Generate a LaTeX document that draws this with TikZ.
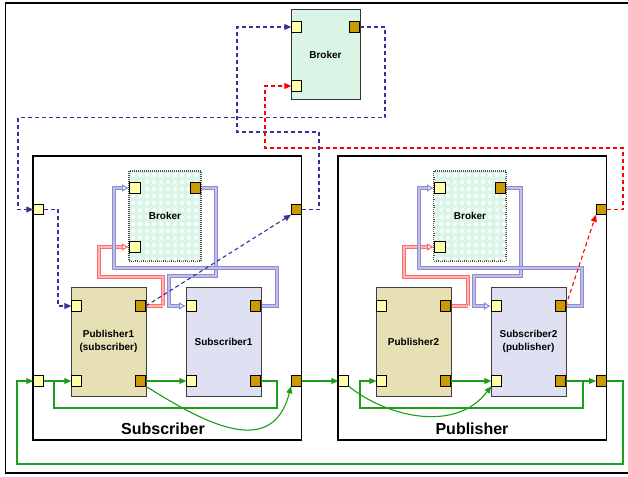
\documentclass[tikz,border=0pt]{standalone}
\usepackage{fontspec}
\setmainfont{Liberation Sans}
\usepackage{tikz}
\usetikzlibrary{arrows.meta,patterns.meta}
\definecolor{brkc}{HTML}{DAF5E6}
\definecolor{pubc}{HTML}{E8E0B5}
\definecolor{subc}{HTML}{DFE1F2}
\definecolor{inc}{HTML}{FFFFA8}
\definecolor{outc}{HTML}{CC9900}
\definecolor{bluec}{HTML}{333399}
\definecolor{redc}{HTML}{FF0000}
\definecolor{greenc}{HTML}{1A9E1A}
\definecolor{lblue}{HTML}{8C8CD2}
\definecolor{lred}{HTML}{FF6E6E}
\tikzset{
  lbl/.style={font=\fontsize{10}{13}\selectfont\bfseries,align=center},
  cont/.style={draw=black,line width=1.3pt,fill=white,outer sep=0pt},
  brk/.style={draw=black!80,line width=1pt,fill=brkc,outer sep=0pt,lbl},
  brkin/.style={draw=black!70,line width=1.3pt,dash pattern=on 1pt off 1pt,fill=brkc,
    preaction={draw=gray!45,line width=2.6pt},
    postaction={pattern={Dots[radius=2.2pt,distance=7pt]},pattern color=white!75!brkc},outer sep=0pt,lbl},
  pubbox/.style={draw=black!75,line width=1pt,fill=pubc,outer sep=0pt,lbl},
  subbox/.style={draw=black!75,line width=1pt,fill=subc,outer sep=0pt,lbl},
  inport/.style={draw=black,line width=0.8pt,fill=inc,minimum size=10.5pt,inner sep=0pt,outer sep=0pt},
  outport/.style={draw=black,line width=0.8pt,fill=outc,minimum size=10.5pt,inner sep=0pt,outer sep=0pt},
  bdash/.style={bluec,line width=1.1pt,dash pattern=on 4pt off 3pt,-{Triangle[length=7pt,width=6pt]}},
  rdash/.style={redc,line width=1.1pt,dash pattern=on 4pt off 3pt,-{Triangle[length=7pt,width=6pt]}},
  gline/.style={greenc,line width=1.1pt},
  garr/.style={gline,-{Triangle[length=7pt,width=6pt]}},
  tblue/.style={draw=lblue,line width=1.1pt,double=lblue!55,double distance=1.2pt,-{Latex[open,length=7pt,width=8pt]}},
  tred/.style={draw=lred,line width=1.1pt,double=lred!50,double distance=1.2pt,-{Latex[open,length=7pt,width=8pt]}}
}
\begin{document}
\begin{tikzpicture}[x=1pt,y=-1pt]
\useasboundingbox (0,0) rectangle (628,476);
% outer frame (right side cut off)
\draw[line width=1.5pt] (640,3) -- (5.5,3) -- (5.5,473) -- (640,473);
% broker on top
\node[brk,minimum width=69,minimum height=90] (topB) at (325.5,55) {Broker};
\node[inport] (topBi1) at (296.5,27) {};
\node[inport] (topBi2) at (296.5,86) {};
\node[outport] (topBo) at (354.5,27) {};
% the two containers
\foreach \s/\dx/\pl/\sl in {A/0/{Publisher1\\(subscriber)}/Subscriber1,B/305/Publisher2/{Subscriber2\\(publisher)}}{
  \node[cont,minimum width=268.5,minimum height=284] (cont\s) at (167.25+\dx,298) {};
  \draw[tred] (163+\dx,306) -- (163+\dx,277) -- (99+\dx,277) -- (99+\dx,247) -- (129+\dx,247);
  \draw[tblue] (201+\dx,188) -- (216+\dx,188) -- (216+\dx,276) -- (169+\dx,276) -- (169+\dx,306) -- (186+\dx,306);
  \draw[tblue] (261+\dx,306) -- (277+\dx,306) -- (277+\dx,268) -- (114+\dx,268) -- (114+\dx,188) -- (129+\dx,188);
  \draw[draw=lred,line width=1.1pt,double=lred!50,double distance=1.2pt] (146+\dx,306) -- (163+\dx,306);
  \node[brkin,minimum width=72,minimum height=90] (brk\s) at (165+\dx,216) {Broker};
  \node[inport] (brk\s i1) at (135+\dx,188) {};
  \node[inport] (brk\s i2) at (135+\dx,247) {};
  \node[outport] (brk\s o) at (195.5+\dx,188) {};
  \node[pubbox,minimum width=75,minimum height=109] (pub\s) at (108.5+\dx,341.5) {\pl};
  \node[inport] (pub\s i1) at (76.5+\dx,306) {};
  \node[outport] (pub\s o1) at (140.5+\dx,306) {};
  \node[inport] (pub\s i2) at (76.5+\dx,381) {};
  \node[outport] (pub\s o2) at (140.5+\dx,381) {};
  \node[subbox,minimum width=75,minimum height=109] (sub\s) at (223.5+\dx,341.5) {\sl};
  \node[inport] (sub\s i1) at (191.5+\dx,306) {};
  \node[outport] (sub\s o1) at (255.5+\dx,306) {};
  \node[inport] (sub\s i2) at (191.5+\dx,381) {};
  \node[outport] (sub\s o2) at (255.5+\dx,381) {};
}
\node[font=\fontsize{16}{18}\selectfont\bfseries] (subT) at (163,428.5) {Subscriber};
\node[font=\fontsize{16}{18}\selectfont\bfseries] (pubT) at (472,428.5) {Publisher};
% container ports
\node[inport] (subL1) at (38.5,209.5) {};
\node[outport] (subR1) at (296.25,209.5) {};
\node[inport] (subL2) at (38.5,381) {};
\node[outport] (subR2) at (296.25,381) {};
\node[outport] (pubR1) at (601.25,209.5) {};
\node[inport] (pubL2) at (343.5,381) {};
\node[outport] (pubR2) at (601.25,381) {};
% dashed links
\draw[bdash] (topBo.east) -- (385,27) |- (18,117.5) |- (subL1.west);
\draw[bdash] (subR1.east) -| (319,132) -- (237,132) |- (topBi1.west);
\draw[rdash] (pubR1.east) -| (623,148) -- (265,148) |- (topBi2.west);
\draw[bdash] (subL1.east) -| (58,300) |- (pubAi1.west);
\draw[bdash] (pubAo1.east) -- (subR1.south west);
\draw[rdash] (subBo1.east) -- (pubR1.south west);
% green links, subscriber side
\draw[garr] (subL2.east) -- (pubAi2.west);
\draw[gline] (subAo2.east) -| (277,408) -| (54,381);
\draw[garr] (pubAo2.east) -- (subAi2.west);
\draw[garr] (pubAo2.south east) .. controls (200,420) and (272,462) .. (subR2.south west);
\draw[garr] (subR2.east) -- (pubL2.west);
% green links, publisher side
\coordinate (pjoin) at (583,381);
\draw[garr] (pubL2.south east) .. controls (385,416) and (455,434) .. (subBi2.south west);
\draw[garr] (pubBo2.east) -- (subBi2.west);
\draw[garr] (subBo2.east) -- (pubR2.west);
\draw[garr] (pjoin) |- (360,408) |- (pubBi2.west);
\draw[garr] (pubR2.east) -| (623,464) -| (17,381) -- (subL2.west);
\end{tikzpicture}
\end{document}
